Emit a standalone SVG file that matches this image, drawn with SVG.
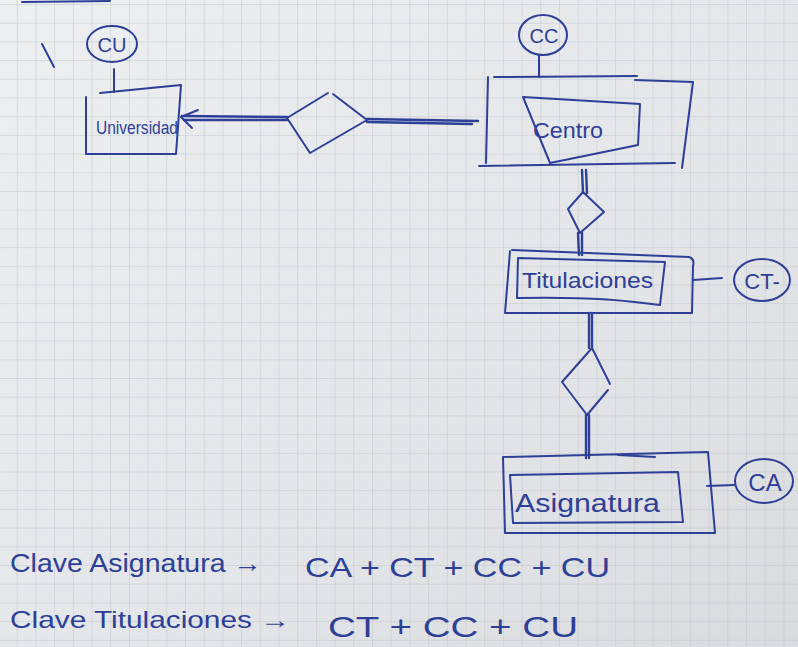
<svg xmlns="http://www.w3.org/2000/svg" width="798" height="647" viewBox="0 0 798 647">
<defs>
<pattern id="grid" x="-2" y="4" width="18.7" height="18.7" patternUnits="userSpaceOnUse">
<path d="M0,0 H18.7 M0,0 V18.7" fill="none" stroke="#bcc7cf" stroke-width="1"/>
</pattern>
<linearGradient id="paper" x1="0" y1="0" x2="1" y2="1">
<stop offset="0" stop-color="#eeeff1"/>
<stop offset="0.6" stop-color="#e4e5e8"/>
<stop offset="1" stop-color="#dadbde"/>
</linearGradient>
<style>
.pen{fill:none;stroke:#2d3f96;stroke-width:2;stroke-linecap:round;stroke-linejoin:round}
.thick{fill:none;stroke:#2d3f96;stroke-width:2.4;stroke-linecap:round}
.lbl{font-family:"Liberation Sans","DejaVu Sans",sans-serif;fill:#2d3f96}
</style>
</defs>
<rect width="798" height="647" fill="url(#paper)"/>
<rect width="798" height="647" fill="url(#grid)"/>
<path class="pen" d="M22,2 L110,1 M42,44 L54,67"/>

<g id="connectors">
<path class="thick" d="M182,116 L287,117 M184,120 L287,120"/>
<path class="pen" d="M198,110 L181,117 L192,128"/>
<path class="thick" d="M367,119 L478,121 M367,122 L472,124"/>
<path class="thick" d="M582,170 L583,193 M586,170 L587,193"/>
<path class="thick" d="M578,233 L579,255 M582,233 L582,255"/>
<path class="thick" d="M589,313 L589,348 M592,313 L592,348"/>
<path class="thick" d="M586,415 L586,458 M589,415 L589,458"/>
<path class="pen" d="M114,69 L114,92"/>
<path class="pen" d="M539,55 L539,77"/>
<path class="pen" d="M693,280 L722,278"/>
<path class="pen" d="M707,486 L734,485"/>
</g>

<g id="rel-universidad-centro">
<path class="pen" d="M287,118 L328,93 M333,94 L367,120 L310,153 L287,118"/>
</g>
<g id="rel-centro-titulaciones">
<path class="pen" d="M583,192 L604,212 L580,233 L568,209 Z"/>
</g>
<g id="rel-titulaciones-asignatura">
<path class="pen" d="M592,348 L610,384 M608,390 L587,415 L562,382 L592,348"/>
</g>

<g id="attr-cu">
<ellipse class="pen" cx="112" cy="44" rx="25" ry="18"/>
<text class="lbl" x="112" y="52" font-size="20" text-anchor="middle">CU</text>
</g>
<g id="universidad">
<path class="pen" d="M100,93 L181,85 L176,154 L86,154 L86,97"/>
<text class="lbl" x="96" y="134" font-size="18" textLength="82" lengthAdjust="spacingAndGlyphs">Universidad</text>
</g>

<g id="attr-cc">
<ellipse class="pen" cx="543" cy="35" rx="24" ry="20"/>
<text class="lbl" x="544" y="43" font-size="20" text-anchor="middle">CC</text>
</g>
<g id="centro">
<path class="pen" d="M494,77 L637,76 M635,80 L693,82 L682,168 M488,77 L486,163 M479,166 L675,163"/>
<path class="pen" d="M523,97 L640,104 L638,145 L550,163 Z"/>
<text class="lbl" x="533" y="138" font-size="22" textLength="70" lengthAdjust="spacingAndGlyphs">Centro</text>
</g>

<g id="titulaciones">
<path class="pen" d="M512,250 L689,257 Q695,259 693,266 L692,313 L505,313 L510,251"/>
<path class="pen" d="M518,258 L665,262 L660,305 Q600,296 517,298 Z"/>
<text class="lbl" x="522" y="288" font-size="22" textLength="131" lengthAdjust="spacingAndGlyphs">Titulaciones</text>
</g>
<g id="attr-ct">
<ellipse class="pen" cx="762" cy="280" rx="28" ry="21"/>
<text class="lbl" x="762" y="289" font-size="22" text-anchor="middle">CT-</text>
</g>

<g id="asignatura">
<path class="pen" d="M503,457 L708,452 L715,533 L505,533 Z M618,455 L655,457"/>
<path class="pen" d="M510,475 L678,472 L683,522 L513,523 Z"/>
<text class="lbl" x="515" y="512" font-size="26" textLength="145" lengthAdjust="spacingAndGlyphs">Asignatura</text>
</g>
<g id="attr-ca">
<ellipse class="pen" cx="764" cy="481" rx="29" ry="22"/>
<text class="lbl" x="765" y="491" font-size="24" text-anchor="middle">CA</text>
</g>

<g id="notes">
<text class="lbl" x="10" y="572" font-size="26" textLength="252" lengthAdjust="spacingAndGlyphs">Clave Asignatura →</text>
<text class="lbl" x="305" y="577" font-size="28" textLength="305" lengthAdjust="spacingAndGlyphs">CA + CT + CC + CU</text>
<text class="lbl" x="10" y="628" font-size="24" textLength="280" lengthAdjust="spacingAndGlyphs">Clave Titulaciones →</text>
<text class="lbl" x="328" y="637" font-size="30" textLength="250" lengthAdjust="spacingAndGlyphs">CT + CC + CU</text>
</g>
</svg>
